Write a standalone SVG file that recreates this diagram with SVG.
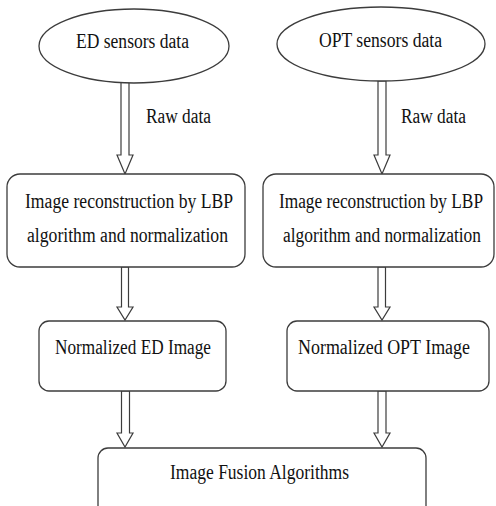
<svg xmlns="http://www.w3.org/2000/svg" width="496" height="506" viewBox="0 0 496 506">
<style>
.shape{fill:#fff;stroke:#3c3c3c;stroke-width:1.3}
.arrow{fill:#fff;stroke:#3c3c3c;stroke-width:1.2;stroke-linejoin:miter}
text{font-family:"Liberation Serif","Times New Roman",serif;font-size:20px;fill:#111}
</style>
<rect width="496" height="506" fill="#fff"/>
<g id="connectors">
<polygon class="arrow" points="121,82 129,82 129,155 133,155 125,174 117,155 121,155"/>
<polygon class="arrow" points="378,81 386,81 386,155 390,155 382,174 374,155 378,155"/>
<polygon class="arrow" points="121.5,267 128.5,267 128.5,307 133,307 125,320 117,307 121.5,307"/>
<polygon class="arrow" points="378,267 385.5,267 385.5,307 390,307 382,320 374,307 378,307"/>
<polygon class="arrow" points="121.5,391 129.5,391 129.5,433 133,433 125,447 117,433 121.5,433"/>
<polygon class="arrow" points="378,391 386,391 386,433 390,433 382,447 374,433 378,433"/>
<text x="146" y="123" textLength="65" lengthAdjust="spacingAndGlyphs">Raw data</text>
<text x="401" y="123" textLength="65" lengthAdjust="spacingAndGlyphs">Raw data</text>
</g>
<g id="ed-sensors">
<ellipse class="shape" cx="134" cy="46" rx="95" ry="37"/>
<text x="76" y="48" textLength="113" lengthAdjust="spacingAndGlyphs">ED sensors data</text>
</g>
<g id="opt-sensors">
<ellipse class="shape" cx="381" cy="44" rx="104" ry="37"/>
<text x="319" y="47" textLength="123" lengthAdjust="spacingAndGlyphs">OPT sensors data</text>
</g>
<g id="ed-reconstruction">
<rect class="shape" x="7" y="174" width="238" height="93" rx="13"/>
<text x="25" y="208" textLength="208" lengthAdjust="spacingAndGlyphs">Image reconstruction by LBP</text>
<text x="27" y="242" textLength="201" lengthAdjust="spacingAndGlyphs">algorithm and normalization</text>
</g>
<g id="opt-reconstruction">
<rect class="shape" x="263" y="174" width="231" height="93" rx="13"/>
<text x="279" y="208" textLength="204" lengthAdjust="spacingAndGlyphs">Image reconstruction by LBP</text>
<text x="283" y="242" textLength="198" lengthAdjust="spacingAndGlyphs">algorithm and normalization</text>
</g>
<g id="ed-normalized">
<rect class="shape" x="39" y="321" width="187" height="70" rx="10"/>
<text x="55" y="354" textLength="156" lengthAdjust="spacingAndGlyphs">Normalized ED Image</text>
</g>
<g id="opt-normalized">
<rect class="shape" x="287" y="321" width="202" height="70" rx="10"/>
<text x="298" y="354" textLength="172" lengthAdjust="spacingAndGlyphs">Normalized OPT Image</text>
</g>
<g id="fusion">
<rect class="shape" x="98" y="448" width="328" height="80" rx="10"/>
<text x="170" y="479" textLength="179" lengthAdjust="spacingAndGlyphs">Image Fusion Algorithms</text>
</g>
</svg>
